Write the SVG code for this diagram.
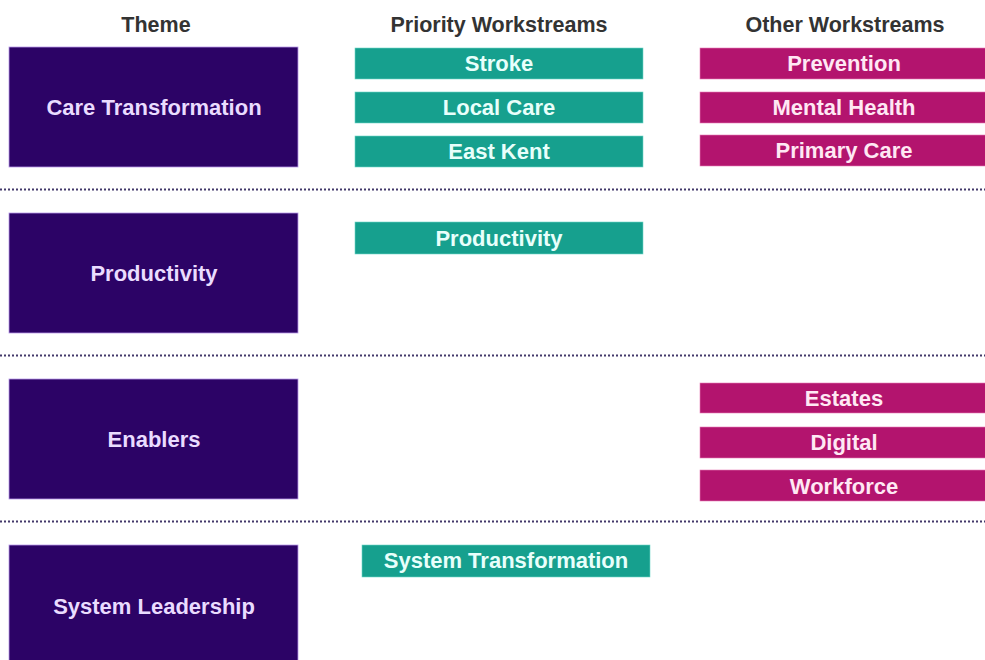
<svg xmlns="http://www.w3.org/2000/svg" width="985" height="660" viewBox="0 0 985 660">
  <style>
    text { font-family: "Liberation Sans", Arial, sans-serif; font-weight: bold; text-anchor: middle; }
    .hdr { font-size: 21.5px; fill: #333333; }
    .theme rect { fill: #2c0366; stroke: #b89ae8; stroke-width: 0.8; }
    .theme text { font-size: 22px; fill: #eadcff; }
    .prio rect { fill: #16a08e; stroke: #6fd6c8; stroke-width: 0.6; }
    .prio text { font-size: 22px; fill: #e8fffb; }
    .other rect { fill: #b3146e; stroke: #e77cb6; stroke-width: 0.6; }
    .other text { font-size: 22px; fill: #ffe8f4; }
    .sep { stroke: #43396a; stroke-width: 2; stroke-dasharray: 2 2; fill: none; }
  </style>

  <!-- column headings -->
  <g id="headers">
    <text class="hdr" x="156" y="32">Theme</text>
    <text class="hdr" x="499" y="32">Priority Workstreams</text>
    <text class="hdr" x="845" y="32">Other Workstreams</text>
  </g>

  <!-- row separators -->
  <g id="separators">
    <line class="sep" x1="0" y1="189.5" x2="985" y2="189.5"/>
    <line class="sep" x1="0" y1="355.5" x2="985" y2="355.5"/>
    <line class="sep" x1="0" y1="521.5" x2="985" y2="521.5"/>
  </g>

  <!-- themes -->
  <g id="theme-care" class="theme">
    <rect x="9" y="47" width="289" height="120"/>
    <text x="154" y="115">Care Transformation</text>
  </g>
  <g id="theme-productivity" class="theme">
    <rect x="9" y="213" width="289" height="120"/>
    <text x="154" y="281">Productivity</text>
  </g>
  <g id="theme-enablers" class="theme">
    <rect x="9" y="379" width="289" height="120"/>
    <text x="154" y="447">Enablers</text>
  </g>
  <g id="theme-leadership" class="theme">
    <rect x="9" y="545" width="289" height="125"/>
    <text x="154" y="614">System Leadership</text>
  </g>

  <!-- priority workstreams -->
  <g id="prio-stroke" class="prio">
    <rect x="355" y="48" width="288" height="31"/>
    <text x="499" y="71">Stroke</text>
  </g>
  <g id="prio-local" class="prio">
    <rect x="355" y="92" width="288" height="31"/>
    <text x="499" y="115">Local Care</text>
  </g>
  <g id="prio-eastkent" class="prio">
    <rect x="355" y="136" width="288" height="31"/>
    <text x="499" y="159">East Kent</text>
  </g>
  <g id="prio-productivity" class="prio">
    <rect x="355" y="222" width="288" height="32"/>
    <text x="499" y="246">Productivity</text>
  </g>
  <g id="prio-system" class="prio">
    <rect x="362" y="545" width="288" height="32"/>
    <text x="506" y="568">System Transformation</text>
  </g>

  <!-- other workstreams -->
  <g id="other-prevention" class="other">
    <rect x="700" y="48" width="290" height="31"/>
    <text x="844" y="71">Prevention</text>
  </g>
  <g id="other-mental" class="other">
    <rect x="700" y="92" width="290" height="31"/>
    <text x="844" y="115">Mental Health</text>
  </g>
  <g id="other-primary" class="other">
    <rect x="700" y="135" width="290" height="31"/>
    <text x="844" y="158">Primary Care</text>
  </g>
  <g id="other-estates" class="other">
    <rect x="700" y="383" width="290" height="30"/>
    <text x="844" y="406">Estates</text>
  </g>
  <g id="other-digital" class="other">
    <rect x="700" y="427" width="290" height="31"/>
    <text x="844" y="450">Digital</text>
  </g>
  <g id="other-workforce" class="other">
    <rect x="700" y="470" width="290" height="31"/>
    <text x="844" y="494">Workforce</text>
  </g>
</svg>
